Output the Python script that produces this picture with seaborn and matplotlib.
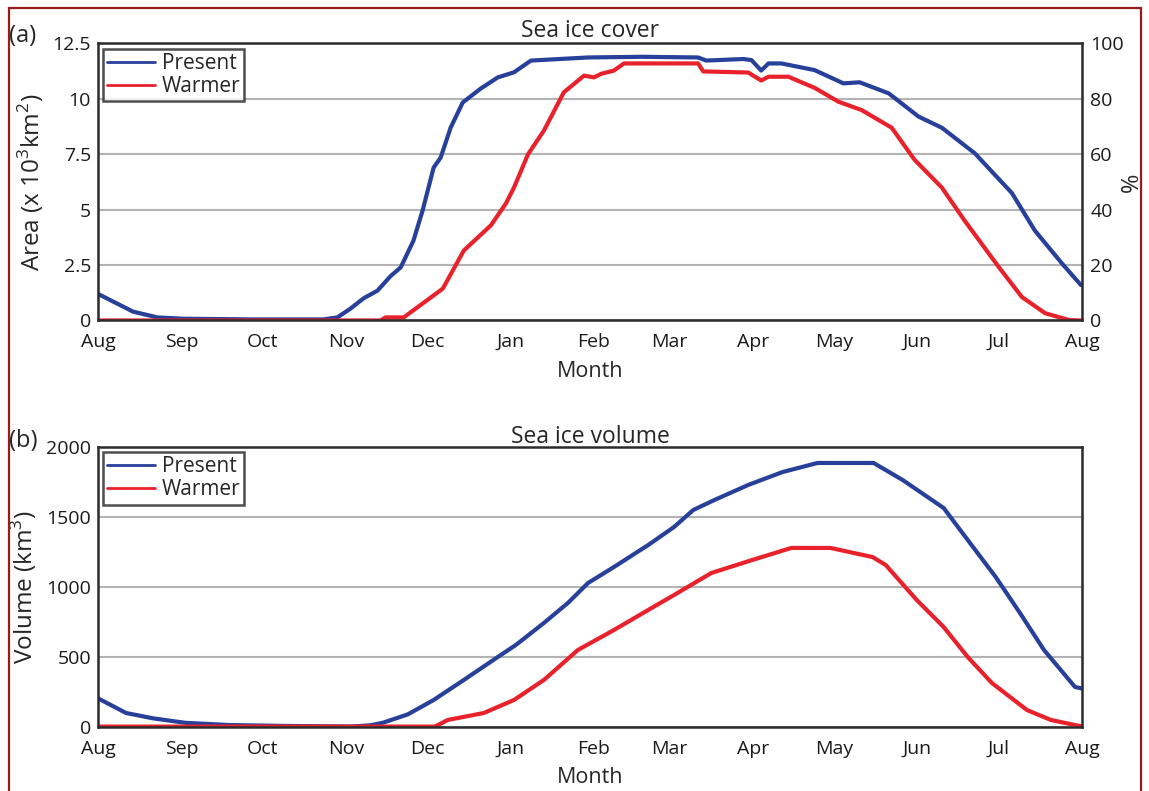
import matplotlib
matplotlib.use("Agg")
import matplotlib.pyplot as plt
from matplotlib.patches import Rectangle
import numpy as np
import pandas as pd
import seaborn as sns

# ---- data (x in days after 1 August) ----
month_labels = ["Aug", "Sep", "Oct", "Nov", "Dec", "Jan", "Feb",
                "Mar", "Apr", "May", "Jun", "Jul", "Aug"]
month_starts = [0, 31, 61, 92, 122, 153, 184, 212, 243, 273, 304, 334, 365]

# Sea ice cover, area (x 10^3 km^2)
cover_present_day = [0, 13, 22, 31.6, 56.5, 83.6, 88.8, 93.7, 98.5, 103.7, 108.5,
                     112.3, 117, 120.4, 124.5, 127.1, 130.8, 135.3, 142, 148.3,
                     154.3, 160.6, 181.8, 201.5, 222.6, 225.6, 239.4, 242.4, 246,
                     248.7, 253.5, 265.8, 276.5, 282.5, 293.3, 304.4, 313, 325.2,
                     339, 347.5, 357.6, 364.6]
cover_present = [1.2, 0.4, 0.14, 0.08, 0.05, 0.05, 0.14, 0.54, 1.0, 1.35, 2.0,
                 2.4, 3.6, 4.96, 6.9, 7.35, 8.7, 9.84, 10.47, 10.97,
                 11.2, 11.73, 11.87, 11.9, 11.87, 11.73, 11.8, 11.75, 11.28,
                 11.6, 11.6, 11.3, 10.7, 10.75, 10.25, 9.2, 8.7, 7.55,
                 5.75, 4.06, 2.57, 1.6]

cover_warmer_day = [0, 60, 104.8, 106.7, 113.4, 120.8, 127.9, 135.7, 145.7, 151.3,
                    154.3, 159.5, 165.4, 172.8, 180.3, 184, 186.6, 191.4, 195.1,
                    222.6, 224.5, 241.2, 246, 248.7, 256.1, 265.8, 274.7, 283.2,
                    294.4, 302.9, 313, 321.5, 334.2, 342.7, 351.3, 360.2, 365]
cover_warmer = [0.0, 0.0, 0.0, 0.14, 0.14, 0.8, 1.44, 3.16, 4.29, 5.28,
                6.0, 7.5, 8.57, 10.3, 11.05, 10.97, 11.13, 11.28, 11.6,
                11.6, 11.24, 11.19, 10.83, 11.0, 11.0, 10.5, 9.87, 9.5,
                8.7, 7.25, 6.0, 4.5, 2.4, 1.06, 0.33, 0.02, 0.0]

# Sea ice volume (km^3)
volume_present_day = [0, 10.4, 20.4, 32.3, 48.7, 67.6, 94, 101, 105.6, 114.9,
                      124.5, 135.7, 148.3, 155, 165.4, 174.3, 181.8, 191.4, 204.1,
                      213.7, 220.8, 228.6, 241.2, 253.9, 266.9, 287.7, 298.5, 313.7,
                      322.6, 333, 342, 350.9, 362.4, 365]
volume_present = [205, 100, 62, 30, 14, 8, 3, 12, 30, 90,
                  193, 336, 500, 586, 743, 886, 1029, 1143, 1300,
                  1429, 1550, 1621, 1729, 1821, 1886, 1886, 1764, 1564,
                  1336, 1071, 814, 550, 286, 275]

volume_warmer_day = [0, 60, 125, 129.7, 143.1, 154.3, 165.4, 178, 191.4, 204.1,
                     213.7, 227.5, 242.7, 257.2, 271.7, 287.3, 292.2, 303.7, 313.7,
                     322.6, 331.6, 344.6, 353.5, 362.4, 365]
volume_warmer = [3, 3, 3, 50, 100, 193, 336, 550, 693, 836,
                 943, 1100, 1193, 1279, 1279, 1214, 1157, 907, 714,
                 500, 314, 121, 50, 14, 5]

area_ticks = [0, 2.5, 5, 7.5, 10, 12.5]
area_ticklabels = ["0", "2.5", "5", "7.5", "10", "12.5"]
percent_ticks = [0, 20, 40, 60, 80, 100]
volume_ticks = [0, 500, 1000, 1500, 2000]

BLUE = "#27409a"
RED = "#e8212b"

sns.set_style("white")
plt.rcParams["font.family"] = ["Open Sans", "DejaVu Sans"]
plt.rcParams["mathtext.fontset"] = "custom"
plt.rcParams["mathtext.rm"] = "Open Sans"

fig = plt.figure(figsize=(11.49, 7.91), dpi=100)
W, H = 1149, 791


def px_axes(left, top, right, bottom):
    return fig.add_axes([left / W, 1 - bottom / H, (right - left) / W, (bottom - top) / H])


def frame(series, name):
    days, vals = series
    return pd.DataFrame({"day": days, "value": vals, "case": name})


def style_axes(ax, yticks, yticklabels=None):
    ax.set_xlim(0, 365)
    ax.set_xticks(month_starts)
    ax.set_xticklabels(month_labels)
    ax.set_xticks(month_starts[1:12:2], minor=True)
    ax.set_yticks(yticks)
    if yticklabels is not None:
        ax.set_yticklabels(yticklabels)
    ax.grid(False)
    ax.grid(True, axis="x", which="minor", color="#b3b3b3", lw=1.5)
    ax.grid(True, axis="y", which="major", color="#b3b3b3", lw=1.5)
    ax.set_axisbelow(True)
    ax.tick_params(axis="x", which="major", direction="in", length=7, width=1.6,
                   labelsize=14, pad=9, colors="#1a1a1a", top=False)
    ax.tick_params(axis="x", which="minor", length=0)
    ax.tick_params(axis="y", which="major", direction="in", length=0,
                   labelsize=14, pad=5, colors="#1a1a1a")
    for sp in ax.spines.values():
        sp.set_color("#2b2b2b")
        sp.set_linewidth(1.8)
    ax.set_xlabel("Month", fontsize=15.5, labelpad=7)
    leg = ax.legend(loc="upper left", fontsize=15, frameon=True, fancybox=False,
                    borderaxespad=0.25, handlelength=2.3, handletextpad=0.3,
                    borderpad=0.2, labelspacing=0.1)
    leg.get_frame().set_edgecolor("#222222")
    leg.get_frame().set_linewidth(1.8)
    for line in leg.get_lines():
        line.set_linewidth(2.0)


# ---- (a) sea ice cover ----
ax1 = px_axes(98, 43.5, 1082, 320.5)
cover = pd.concat([frame((cover_present_day, cover_present), "Present"),
                   frame((cover_warmer_day, cover_warmer), "Warmer")])
sns.lineplot(data=cover, x="day", y="value", hue="case", palette=[BLUE, RED],
             lw=3.0, ax=ax1, estimator=None, sort=False)
ax1.set_ylim(0, 12.5)
style_axes(ax1, area_ticks, area_ticklabels)
ax1.set_ylabel("Area (x 10$^{3}$km$^{2}$)", fontsize=17.5, labelpad=5)
ax1.set_title("Sea ice cover", fontsize=16.5, pad=3)

ax1r = ax1.twinx()
ax1r.set_ylim(0, 100)
ax1r.set_yticks(percent_ticks)
ax1r.tick_params(axis="y", direction="in", length=0, labelsize=14, pad=6,
                 colors="#1a1a1a")
for sp in ax1r.spines.values():
    sp.set_visible(False)
ax1r.set_ylabel("%", fontsize=17, labelpad=-3)

# ---- (b) sea ice volume ----
ax2 = px_axes(98, 447, 1082, 727)
volume = pd.concat([frame((volume_present_day, volume_present), "Present"),
                    frame((volume_warmer_day, volume_warmer), "Warmer")])
sns.lineplot(data=volume, x="day", y="value", hue="case", palette=[BLUE, RED],
             lw=3.0, ax=ax2, estimator=None, sort=False)
ax2.set_ylim(0, 2000)
style_axes(ax2, volume_ticks)
ax2.set_ylabel("Volume (km$^{3}$)", fontsize=17.5, labelpad=5)
ax2.set_title("Sea ice volume", fontsize=16.5, pad=3)

# panel letters
fig.text(9 / W, 1 - 36 / H, "(a)", fontsize=17, va="center", ha="left")
fig.text(9 / W, 1 - 441 / H, "(b)", fontsize=17, va="center", ha="left")

# outer border
fig.patches.append(Rectangle((8.5 / W, -0.05), (1141 - 8.5) / W, 1.05 - 8 / H,
                             transform=fig.transFigure, fill=False,
                             edgecolor="#9a1b1b", lw=1.6, zorder=0))

fig.savefig("out.png", dpi=100)
